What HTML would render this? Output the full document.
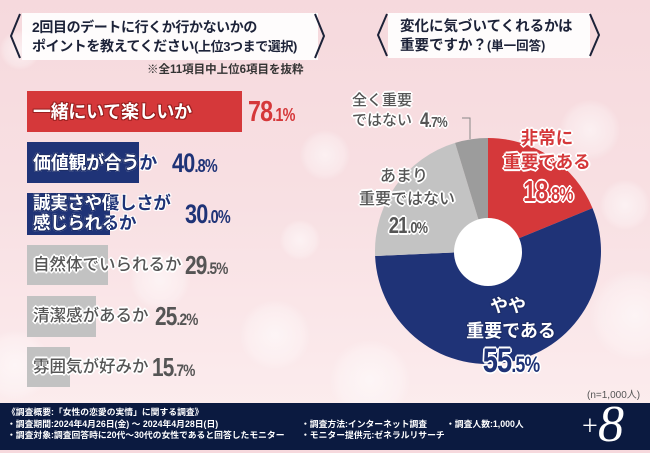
<!DOCTYPE html>
<html><head><meta charset="utf-8">
<style>
*{margin:0;padding:0;box-sizing:border-box}
body{width:650px;height:450px;overflow:hidden;position:relative;font-family:"Liberation Sans","Noto Sans CJK JP",sans-serif;background:linear-gradient(180deg,#f6d9dd 0%,#f8e0e3 45%,#fbe9eb 80%,#fcefef 100%)}
.a{position:absolute;white-space:nowrap}
.bk{position:absolute;border-radius:50%;background:radial-gradient(circle,rgba(255,255,255,.55) 0%,rgba(255,255,255,.25) 55%,rgba(255,255,255,0) 72%)}
.lbl{font-size:18px;font-weight:700;line-height:24px;letter-spacing:-0.3px}
.glbl{font-size:16.5px;font-weight:500;line-height:24px;color:#555}
.wo{text-shadow:1px 0 #fff,-1px 0 #fff,0 1px #fff,0 -1px #fff,1px 1px #fff,-1px -1px #fff,1px -1px #fff,-1px 1px #fff,2px 0 #fff,-2px 0 #fff,0 2px #fff,0 -2px #fff}
.wo1{text-shadow:1px 0 #fff,-1px 0 #fff,0 1px #fff,0 -1px #fff,1px 1px #fff,-1px -1px #fff,1px -1px #fff,-1px 1px #fff}
.wn{color:#fff;text-shadow:1px 0 #1c2c66,-1px 0 #1c2c66,0 1px #1c2c66,0 -1px #1c2c66,1px 1px #1c2c66,-1px -1px #1c2c66,1px -1px #1c2c66,-1px 1px #1c2c66}
.wr{color:#fff;text-shadow:1px 0 #9a2020,-1px 0 #9a2020,0 1px #9a2020,0 -1px #9a2020,1px 1px #9a2020,-1px -1px #9a2020,1px -1px #9a2020,-1px 1px #9a2020}
.num{font-weight:700;transform:scaleX(.8);transform-origin:left center;letter-spacing:-1px}
.numc{font-weight:700;transform:scaleX(.8);transform-origin:center center;letter-spacing:-1px}
.ttl{font-size:14px;font-weight:700;color:#1c2238;line-height:19px;letter-spacing:-0.4px}
.ft{font-size:8.8px;color:#fff;font-weight:700;line-height:11px}
</style></head><body>

<!-- bokeh -->
<div class="bk" style="left:590px;top:270px;width:90px;height:90px"></div>
<div class="bk" style="left:560px;top:100px;width:60px;height:60px"></div>
<div class="bk" style="left:240px;top:300px;width:70px;height:70px"></div>
<div class="bk" style="left:130px;top:250px;width:60px;height:60px"></div>
<div class="bk" style="left:300px;top:130px;width:50px;height:50px"></div>
<div class="bk" style="left:-20px;top:330px;width:70px;height:70px"></div>
<div class="bk" style="left:330px;top:340px;width:80px;height:80px"></div>
<div class="bk" style="left:600px;top:180px;width:50px;height:50px"></div>
<div class="bk" style="left:280px;top:220px;width:40px;height:40px"></div>
<div class="bk" style="left:0px;top:30px;width:40px;height:40px"></div>

<!-- title boxes -->
<div class="a" style="left:22px;top:13px;width:296px;height:47px;background:rgba(255,255,255,.9)"></div>
<div class="a" style="left:388px;top:13px;width:202px;height:45px;background:rgba(255,255,255,.9)"></div>

<svg class="a" style="left:0;top:0" width="650" height="450" viewBox="0 0 650 450">
  <g fill="none" stroke="#1c2238" stroke-width="2">
    <polyline points="20,14 11,36 20,58"/>
    <polyline points="315,14 324,36 315,58"/>
    <polyline points="387,14 378,35 387,56"/>
    <polyline points="590,14 599,35 590,56"/>
  </g>
  <path d="M488,251 L488,138 A113,113 0 0 1 592.5,208.1 Z" fill="#d5383a"/>
  <path d="M488,251 L592.5,208.1 A113,113 0 1 1 375.1,256 Z" fill="#1f3377"/>
  <path d="M488,251 L375.1,256 A113,113 0 0 1 455.1,142.9 Z" fill="#c3c3c3"/>
  <path d="M488,251 L455.1,142.9 A113,113 0 0 1 488,138 Z" fill="#9c9c9c"/>
  <circle cx="488" cy="252" r="34" fill="#fff"/>
  <polyline points="462,118 470,118 470,139" fill="none" stroke="#888" stroke-width="1"/>
</svg>

<!-- titles -->
<div class="a ttl" style="left:32px;top:18px">2回目のデートに行くか行かないかの</div>
<div class="a ttl" style="left:32px;top:37px">ポイントを教えてください<span style="font-size:13px">(上位3つまで選択)</span></div>
<div class="a" style="left:147px;top:63px;font-size:11.5px;font-weight:700;color:#333;line-height:14px">※全11項目中上位6項目を抜粋</div>
<div class="a ttl" style="left:400px;top:18px;font-size:14.5px;letter-spacing:0">変化に気づいてくれるかは</div>
<div class="a ttl" style="left:400px;top:37px;font-size:14.5px;letter-spacing:0">重要ですか？<span style="font-size:12.5px">(単一回答)</span></div>

<!-- bars -->
<div class="a" style="left:27px;top:91px;width:215px;height:41px;background:#d5383a"></div>
<div class="a lbl wr" style="left:33px;top:100px">一緒にいて楽しいか</div>
<div class="a num" style="left:248px;top:96px;line-height:32px;color:#d5383a"><span style="font-size:29px">78</span><span style="font-size:18px">.1%</span></div>

<div class="a" style="left:27px;top:142px;width:112px;height:41px;background:#1f3377"></div>
<div class="a lbl wo1" style="left:33px;top:151px;color:#1f3377">価値観が合うか</div>
<div class="a" style="left:27px;top:142px;width:112px;height:41px;overflow:hidden"><div class="a lbl wn" style="left:6px;top:9px">価値観が合うか</div></div>
<div class="a num" style="left:172px;top:148px;line-height:30px;color:#1f3377"><span style="font-size:27px">40</span><span style="font-size:18px">.8%</span></div>

<div class="a" style="left:27px;top:193px;width:83px;height:42px;background:#1f3377"></div>
<div class="a lbl wo1" style="left:33px;top:193px;color:#1f3377;font-size:17.5px;line-height:20px">誠実さや優しさが<br>感じられるか</div>
<div class="a" style="left:27px;top:193px;width:83px;height:42px;overflow:hidden"><div class="a lbl wn" style="left:6px;top:0px;font-size:17.5px;line-height:20px">誠実さや優しさが<br>感じられるか</div></div>
<div class="a num" style="left:185px;top:199px;line-height:30px;color:#1f3377"><span style="font-size:27px">30</span><span style="font-size:18px">.0%</span></div>

<div class="a" style="left:27px;top:245px;width:81px;height:40px;background:#c2c2c2"></div>
<div class="a glbl wo" style="left:33px;top:253px">自然体でいられるか</div>
<div class="a num" style="left:185px;top:250px;line-height:30px;color:#555"><span style="font-size:26px">29</span><span style="font-size:17px">.5%</span></div>

<div class="a" style="left:27px;top:296px;width:69px;height:41px;background:#c2c2c2"></div>
<div class="a glbl wo" style="left:33px;top:304px">清潔感があるか</div>
<div class="a num" style="left:155px;top:301px;line-height:30px;color:#555"><span style="font-size:26px">25</span><span style="font-size:17px">.2%</span></div>

<div class="a" style="left:27px;top:347px;width:43px;height:40px;background:#c2c2c2"></div>
<div class="a glbl wo" style="left:33px;top:355px">雰囲気が好みか</div>
<div class="a num" style="left:152px;top:352px;line-height:30px;color:#555"><span style="font-size:26px">15</span><span style="font-size:17px">.7%</span></div>

<!-- pie labels -->
<div class="a wo" style="left:352px;top:91px;font-size:15px;font-weight:500;color:#555;line-height:20px">全く重要</div>
<div class="a wo" style="left:352px;top:111px;font-size:15px;font-weight:500;color:#555;line-height:20px">ではない</div>
<div class="a num wo" style="left:420px;top:108px;line-height:26px;color:#555"><span style="font-size:21px">4</span><span style="font-size:15px">.7%</span></div>

<div class="a wo" style="left:447px;width:200px;text-align:center;top:127px;font-size:17.5px;font-weight:700;color:#d5383a;line-height:22px">非常に</div>
<div class="a wo" style="left:447px;width:200px;text-align:center;top:151px;font-size:17.5px;font-weight:700;color:#d5383a;line-height:22px">重要である</div>
<div class="a numc wo" style="left:448px;width:200px;text-align:center;top:176px;line-height:32px;color:#d5383a"><span style="font-size:29px">18</span><span style="font-size:20px">.8%</span></div>

<div class="a wo" style="left:304px;width:200px;text-align:center;top:166px;font-size:16px;font-weight:500;color:#555;line-height:22px">あまり</div>
<div class="a wo" style="left:307px;width:200px;text-align:center;top:189px;font-size:16px;font-weight:500;color:#555;line-height:22px">重要ではない</div>
<div class="a numc wo" style="left:308px;width:200px;text-align:center;top:211px;line-height:28px;color:#555"><span style="font-size:23px">21</span><span style="font-size:16px">.0%</span></div>

<div class="a wn" style="left:408px;width:200px;text-align:center;top:295px;font-size:18px;font-weight:700;line-height:22px">やや</div>
<div class="a wn" style="left:411px;width:200px;text-align:center;top:320px;font-size:18px;font-weight:700;line-height:22px">重要である</div>
<div class="a numc wo" style="left:411px;width:200px;text-align:center;top:342px;line-height:38px;color:#1f3377"><span style="font-size:34px">55</span><span style="font-size:22px">.5%</span></div>

<div class="a" style="left:587px;top:390px;font-size:10px;color:#555;line-height:12px">(n=1,000人)</div>

<!-- footer -->
<div class="a" style="left:0;top:403px;width:650px;height:47px;background:#0b1a40"></div>
<div class="a ft" style="left:7px;top:407px">《調査概要:「女性の恋愛の実情」に関する調査》</div>
<div class="a ft" style="left:7px;top:419px">・調査期間:2024年4月26日(金) 〜 2024年4月28日(日)</div>
<div class="a ft" style="left:7px;top:430px">・調査対象:調査回答時に20代〜30代の女性であると回答したモニター</div>
<div class="a ft" style="left:301px;top:419px">・調査方法:インターネット調査</div>
<div class="a ft" style="left:301px;top:430px">・モニター提供元:ゼネラルリサーチ</div>
<div class="a ft" style="left:446px;top:419px">・調査人数:1,000人</div>
<div class="a" style="left:582px;top:412px;font-family:'Liberation Serif',serif;font-size:28px;color:#fff;line-height:30px">+</div>
<div class="a" style="left:598px;top:399px;font-family:'Liberation Serif',serif;font-style:italic;font-size:52px;color:#fff;line-height:52px">8</div>

</body></html>
